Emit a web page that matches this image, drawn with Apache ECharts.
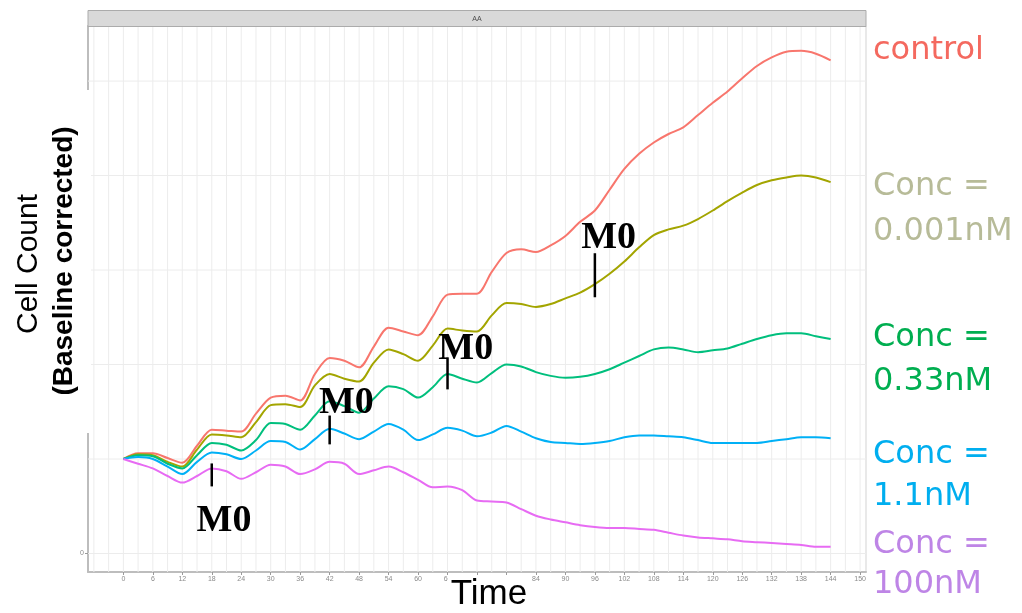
<!DOCTYPE html>
<html>
<head>
<meta charset="utf-8">
<script src="https://cdn.jsdelivr.net/npm/echarts@6/dist/echarts.min.js"></script>
<style>
  html, body { margin: 0; padding: 0; background: #ffffff; }
  #chart { width: 1022px; height: 613px; }
</style>
</head>
<body>
<div id="chart"></div>
<script>
// Sampling times (hours)
const times = [0,3,6,9,12,15,18,21,24,27,30,33,36,39,42,45,48,51,54,57,60,63,66,69,72,75,78,81,84,87,90,93,96,99,102,105,108,111,114,117,120,123,126,129,132,135,138,141,144];

// Baseline-corrected cell counts per condition
const control  = [1.00,1.06,1.06,1.01,0.96, 1.14,1.31,1.30,1.29, 1.48,1.65,1.67,1.62, 1.90,2.07,2.04,1.97, 2.19,2.39,2.35,2.31, 2.51,2.74,2.75,2.75, 2.98,3.18,3.22,3.19, 3.26,3.36,3.51,3.63, 3.85,4.07,4.23,4.35, 4.44,4.51,4.64,4.77, 4.89,5.03,5.16,5.25, 5.31,5.32,5.29,5.22];
const conc0001 = [1.00,1.05,1.04,0.97,0.92, 1.10,1.26,1.25,1.23, 1.39,1.57,1.58,1.55, 1.78,1.90,1.85,1.82, 2.02,2.16,2.11,2.04, 2.20,2.38,2.36,2.35, 2.52,2.65,2.64,2.61, 2.64,2.70,2.76,2.85, 2.96,3.09,3.24,3.37, 3.43,3.47,3.54,3.63, 3.73,3.82,3.90,3.95, 3.98,4.00,3.98,3.93];
const conc033  = [1.00,1.04,1.03,0.95,0.90, 1.04,1.17,1.15,1.09, 1.20,1.38,1.37,1.31, 1.46,1.61,1.56,1.49, 1.64,1.77,1.74,1.65, 1.76,1.90,1.85,1.81, 1.91,2.00,1.98,1.92, 1.88,1.86,1.87,1.90, 1.95,2.02,2.09,2.16, 2.18,2.16,2.13,2.15, 2.17,2.22,2.27,2.31, 2.33,2.33,2.30,2.27];
const conc11   = [1.00,1.02,1.00,0.92,0.84, 0.97,1.07,1.05,1.00, 1.09,1.19,1.18,1.10, 1.21,1.32,1.27,1.21, 1.29,1.37,1.31,1.20, 1.26,1.33,1.30,1.24, 1.28,1.35,1.29,1.22, 1.18,1.17,1.16,1.17, 1.19,1.23,1.25,1.25, 1.24,1.23,1.20,1.17, 1.17,1.17,1.17,1.19, 1.21,1.23,1.23,1.22];
const conc100  = [1.00,0.95,0.90,0.82,0.75, 0.82,0.90,0.87,0.79, 0.86,0.94,0.92,0.84, 0.89,0.97,0.95,0.84, 0.88,0.92,0.86,0.78, 0.70,0.71,0.67,0.56, 0.55,0.54,0.47,0.40, 0.36,0.33,0.30,0.28, 0.27,0.27,0.26,0.25, 0.22,0.19,0.17,0.16, 0.15,0.13,0.12,0.11, 0.10,0.09,0.07,0.07];

// Axis labels
const xTickLabels = [0,6,12,18,24,30,36,42,48,54,60,66,72,78,84,90,96,102,108,114,120,126,132,138,144,150];
const yTickLabels = [0];
const yGridValues = [0,1,2,3,4,5];

// M0 dosing markers: time, tick top, tick bottom, label centre time, label centre value
const m0Times       = [18, 42, 66, 96];
const m0TickTop     = [0.953, 1.460, 2.076, 3.178];
const m0TickBottom  = [0.710, 1.155, 1.737, 2.712];
const m0LabelTime   = [20.5, 45.4, 69.7, 98.8];
const m0LabelValue  = [0.339, 1.589, 2.166, 3.342];

const seriesList = [
  { name: 'control',         data: control,  color: '#F8766D' },
  { name: 'Conc = 0.001nM',  data: conc0001, color: '#A3A500' },
  { name: 'Conc = 0.33nM',   data: conc033,  color: '#00BF7D' },
  { name: 'Conc = 1.1nM',    data: conc11,   color: '#00B0F6' },
  { name: 'Conc = 100nM',    data: conc100,  color: '#E76BF3' }
];

const X_MIN = -7.2, X_MAX = 151.2;
const Y_MIN = -0.196, Y_MAX = 5.583;

// vertical grid positions (major every 6, minor every 3)
const xGridValues = [];
for (let v = -6; v <= 150; v += 3) xGridValues.push(v);

const chart = echarts.init(document.getElementById('chart'), null, { renderer: 'canvas' });

const gridLineStyle = { stroke: '#ECECEC', lineWidth: 1 };

const series = [
  {
    type: 'custom',
    name: 'vgrid',
    silent: true,
    z: 1,
    clip: true,
    data: xGridValues.map(v => [v, 0]),
    encode: { x: 0, y: 1 },
    renderItem: function (params, api) {
      const x = api.value(0);
      const p1 = api.coord([x, Y_MIN]);
      const p2 = api.coord([x, Y_MAX]);
      return { type: 'line', shape: { x1: p1[0], y1: p1[1], x2: p2[0], y2: p2[1] }, style: gridLineStyle };
    }
  },
  {
    type: 'custom',
    name: 'hgrid',
    silent: true,
    z: 1,
    clip: true,
    data: yGridValues.map(v => [0, v]),
    encode: { x: 0, y: 1 },
    renderItem: function (params, api) {
      const y = api.value(1);
      const p1 = api.coord([X_MIN, y]);
      const p2 = api.coord([X_MAX, y]);
      return { type: 'line', shape: { x1: p1[0], y1: p1[1], x2: p2[0], y2: p2[1] }, style: gridLineStyle };
    }
  }
];

seriesList.forEach(s => {
  series.push({
    type: 'line',
    name: s.name,
    z: 3,
    data: times.map((t, i) => [t, s.data[i]]),
    smooth: 0.3,
    showSymbol: false,
    symbol: 'none',
    lineStyle: { color: s.color, width: 2 },
    itemStyle: { color: s.color }
  });
});

series.push({
  type: 'custom',
  name: 'M0',
  z: 5,
  silent: true,
  clip: false,
  data: m0Times.map((t, i) => [t, m0TickTop[i], m0TickBottom[i], m0LabelTime[i], m0LabelValue[i]]),
  encode: { x: 0, y: 1 },
  renderItem: function (params, api) {
    const top = api.coord([api.value(0), api.value(1)]);
    const bot = api.coord([api.value(0), api.value(2)]);
    const lab = api.coord([api.value(3), api.value(4)]);
    return {
      type: 'group',
      children: [
        { type: 'line', shape: { x1: top[0], y1: top[1], x2: bot[0], y2: bot[1] },
          style: { stroke: '#000000', lineWidth: 2.5 } },
        { type: 'text', x: lab[0], y: lab[1],
          style: { text: 'M0', font: 'bold 38px "Liberation Serif", "DejaVu Serif", serif',
                   fill: '#000000', align: 'center', verticalAlign: 'middle' } }
      ]
    };
  }
});

// Condition labels on the right
const sideLabelFont = '32px "DejaVu Sans", sans-serif';
const sideLabels = [
  { lines: ['control'],            y: [51],        color: '#F4695F' },
  { lines: ['Conc =', '0.001nM'],  y: [187, 232],  color: '#B7BB98' },
  { lines: ['Conc =', '0.33nM'],   y: [338, 382],  color: '#00AE50' },
  { lines: ['Conc =', '1.1nM'],    y: [455, 497],  color: '#00AEEF' },
  { lines: ['Conc =', '100nM'],    y: [545, 585],  color: '#BE85E6' }
];
const graphics = [];

// facet strip
graphics.push({
  type: 'rect', z: 50, silent: true,
  shape: { x: 88, y: 10.5, width: 778, height: 16 },
  style: { fill: '#D9D9D9', stroke: '#ABABAB', lineWidth: 1 }
});
graphics.push({
  type: 'text', z: 51, silent: true, x: 477, y: 19,
  style: { text: 'AA', font: '7px "Liberation Sans", sans-serif', fill: '#4D4D4D', align: 'center', verticalAlign: 'middle' }
});

// white band behind the y title
graphics.push({
  type: 'rect', z: 60, silent: true,
  shape: { x: 0, y: 90, width: 91, height: 343 },
  style: { fill: '#ffffff' }
});
graphics.push({
  type: 'text', z: 61, silent: true, x: 29, y: 264, rotation: Math.PI / 2,
  style: { text: 'Cell Count', font: '30px "Liberation Sans", Arial, sans-serif', fill: '#000000', align: 'center', verticalAlign: 'middle' }
});
graphics.push({
  type: 'text', z: 61, silent: true, x: 64, y: 261, rotation: Math.PI / 2,
  style: { text: '(Baseline corrected)', font: 'bold 28px "Liberation Sans", Arial, sans-serif', fill: '#000000', align: 'center', verticalAlign: 'middle' }
});

// x title with its white box
graphics.push({
  type: 'rect', z: 60, silent: true,
  shape: { x: 448, y: 575, width: 84, height: 38 },
  style: { fill: '#ffffff' }
});
graphics.push({
  type: 'text', z: 61, silent: true, x: 489, y: 594,
  style: { text: 'Time', font: '35px "Liberation Sans", Arial, sans-serif', fill: '#000000', align: 'center', verticalAlign: 'middle' }
});

sideLabels.forEach(l => {
  l.lines.forEach((txt, k) => {
    graphics.push({
      type: 'text', z: 61, silent: true, x: 873, y: l.y[k],
      style: { text: txt, font: sideLabelFont, fill: l.color, align: 'left', verticalAlign: 'middle' }
    });
  });
});

chart.setOption({
  animation: false,
  backgroundColor: '#ffffff',
  grid: {
    left: 88, right: 156, top: 26, bottom: 41,
    show: true, borderColor: '#D3D3D3', borderWidth: 1, backgroundColor: 'transparent'
  },
  xAxis: {
    type: 'value',
    min: X_MIN, max: X_MAX,
    axisLine: { show: true, onZero: false, lineStyle: { color: '#BDBDBD', width: 2 } },
    axisTick: { show: true, length: 3, customValues: xTickLabels, lineStyle: { color: '#9A9A9A', width: 1 } },
    axisLabel: { show: true, customValues: xTickLabels, margin: 4, fontSize: 7, color: '#8A8A8A',
                 fontFamily: '"Liberation Sans", sans-serif' },
    splitLine: { show: false }
  },
  yAxis: {
    type: 'value',
    min: Y_MIN, max: Y_MAX,
    axisLine: { show: true, onZero: false, lineStyle: { color: '#BDBDBD', width: 2 } },
    axisTick: { show: true, length: 3, customValues: yTickLabels, lineStyle: { color: '#9A9A9A', width: 1 } },
    axisLabel: { show: true, customValues: yTickLabels, margin: 4, fontSize: 7, color: '#8A8A8A',
                 fontFamily: '"Liberation Sans", sans-serif' },
    splitLine: { show: false }
  },
  series: series,
  graphic: graphics
});
</script>
</body>
</html>
